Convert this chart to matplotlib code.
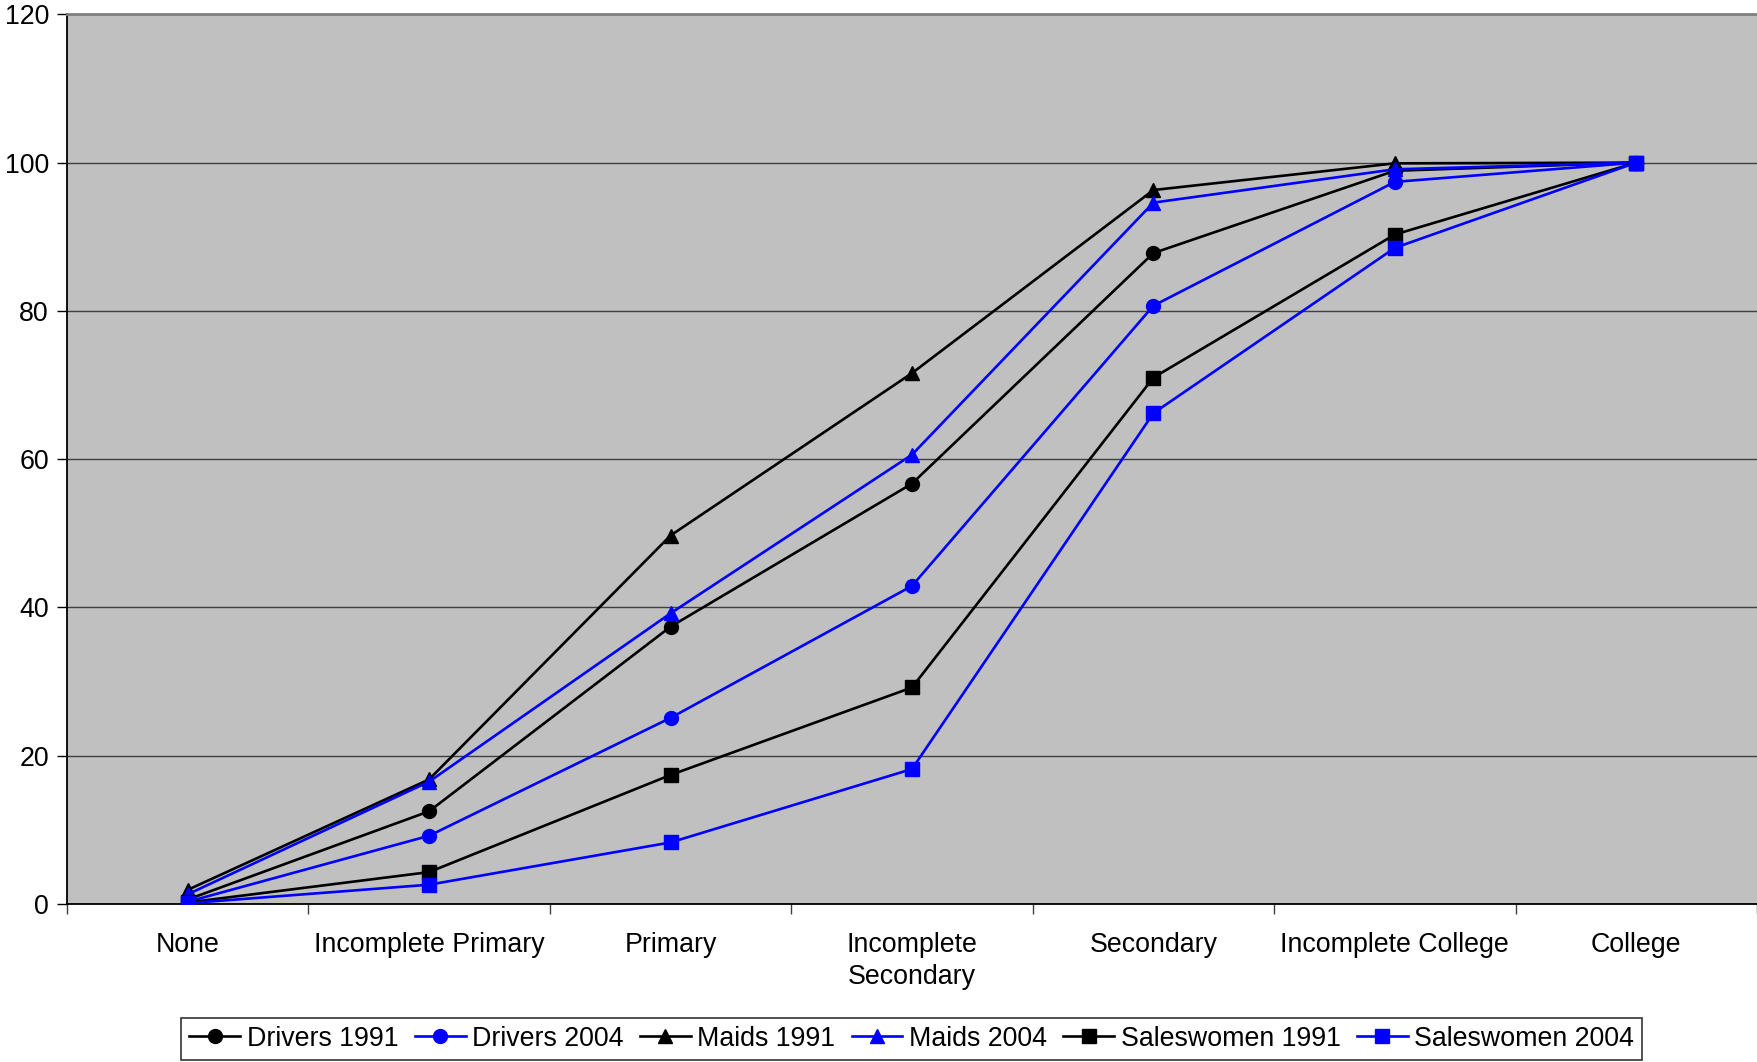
import matplotlib
matplotlib.use('Agg')
import matplotlib.pyplot as plt

plt.rcParams['font.family'] = ['Liberation Sans', 'DejaVu Sans']

levels = ['None', 'Incomplete Primary', 'Primary', 'Incomplete\nSecondary',
          'Secondary', 'Incomplete College', 'College']

drivers_1991 = [0.6, 12.5, 37.4, 56.7, 87.8, 98.9, 100]
drivers_2004 = [0.3, 9.2, 25.1, 42.9, 80.7, 97.4, 100]
maids_1991 = [1.9, 16.8, 49.7, 71.6, 96.3, 99.9, 100]
maids_2004 = [1.3, 16.5, 39.2, 60.6, 94.6, 99.1, 100]
sales_1991 = [0.2, 4.3, 17.4, 29.2, 71.0, 90.3, 100]
sales_2004 = [0.1, 2.6, 8.3, 18.2, 66.2, 88.5, 100]

series = [
    ('Drivers 1991', drivers_1991, 'black', 'o'),
    ('Drivers 2004', drivers_2004, '#0000FF', 'o'),
    ('Maids 1991', maids_1991, 'black', '^'),
    ('Maids 2004', maids_2004, '#0000FF', '^'),
    ('Saleswomen 1991', sales_1991, 'black', 's'),
    ('Saleswomen 2004', sales_2004, '#0000FF', 's'),
]

FS = 19.3

fig = plt.figure(figsize=(17.57, 10.62), dpi=100)
ax = fig.add_axes([0.0381, 0.1488, 0.9619, 0.8377])
ax.set_facecolor('#C0C0C0')

x = list(range(len(levels)))
for name, vals, col, mk in series:
    ax.plot(x, vals, color=col, marker=mk, markersize=10, linewidth=1.9,
            label=name, zorder=3)

ax.set_xlim(-0.5, len(levels) - 0.5)
ax.set_ylim(0, 120)
ax.set_yticks(range(0, 121, 20))
ax.yaxis.grid(True, color='#404040', linewidth=1)
ax.set_axisbelow(True)

ax.set_xticks([i - 0.5 for i in range(len(levels) + 1)])
ax.set_xticklabels([])
ax.set_xticks(x, minor=True)
ax.set_xticklabels(levels, minor=True, fontsize=FS, linespacing=1.3)
ax.tick_params(axis='x', which='minor', length=0, pad=20)
ax.tick_params(axis='x', which='major', length=7, width=1, color='#404040')
ax.tick_params(axis='y', length=7, width=1, labelsize=FS, pad=6)

for s in ['left', 'bottom']:
    ax.spines[s].set_color('black')
    ax.spines[s].set_linewidth(1.3)
ax.spines['top'].set_color('#808080')
ax.spines['top'].set_linewidth(2)
ax.spines['right'].set_visible(False)

leg = fig.legend(loc='lower center', bbox_to_anchor=(0.519, 0.002), ncol=6,
                 fontsize=FS, frameon=True, fancybox=False, edgecolor='black',
                 handlelength=1.9, handletextpad=0.25, columnspacing=0.6,
                 borderpad=0.3, borderaxespad=0, markerscale=1.0)
leg.get_frame().set_linewidth(1.2)

fig.savefig('out.png', dpi=100, facecolor='white')
